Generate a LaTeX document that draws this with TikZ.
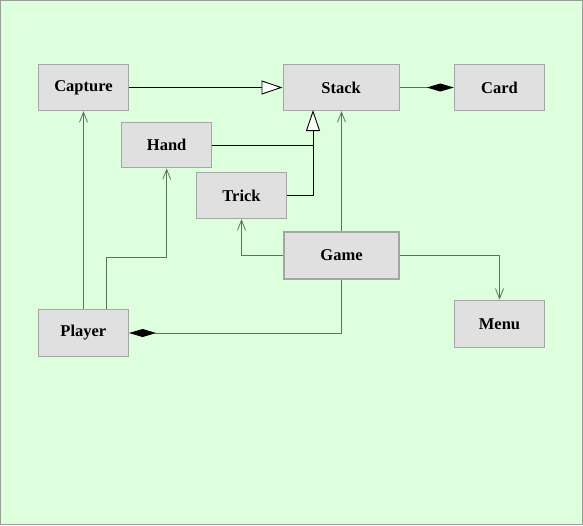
\documentclass[tikz,border=0pt]{standalone}
\usepackage{fontspec}
\setmainfont{Liberation Serif}
\usetikzlibrary{arrows.meta,calc}
\definecolor{bg}{RGB}{221,255,221}
\definecolor{boxfill}{RGB}{224,224,224}
\definecolor{boxline}{RGB}{165,165,165}
\definecolor{conn}{RGB}{90,115,90}
\definecolor{frame}{RGB}{150,160,150}
\tikzset{
  cls/.style={draw=boxline, line width=1.4pt, fill=boxfill, inner sep=0pt,
    minimum height=46pt, font=\fontsize{16.5}{19}\selectfont\bfseries},
  gen/.style={draw=black, line width=0.9pt, -{Triangle[open,length=21pt,width=14pt,fill=white]}},
  plainblack/.style={draw=black, line width=0.9pt},
  dep/.style={draw=conn, line width=0.8pt, -{Straight Barb[length=10pt,width=8pt]}},
  comp/.style={draw=conn, line width=0.8pt, -{Diamond[length=27pt,width=8pt,fill=black,black]}},
}
\begin{document}
\begin{tikzpicture}[x=1pt,y=-1pt]
\useasboundingbox (0,0) rectangle (583,525);
\fill[bg] (0,0) rectangle (583,525);
\draw[frame, line width=1pt] (0.5,0.5) rectangle (582.5,524.5);

\node[cls, minimum width=90pt] (capture) at (83.5,87.5) {Capture};
\node[cls, minimum width=116pt] (stack) at (341.2,87.5) {Stack};
\node[cls, minimum width=90pt] (card) at (499.5,87.5) {Card};
\node[cls, minimum width=90pt, minimum height=45pt] (hand) at (166.7,145.2) {Hand};
\node[cls, minimum width=90pt] (trick) at (241.5,195.5) {Trick};
\node[cls, minimum width=115pt, minimum height=47pt] (game) at (341.5,255.5) {Game};
\node[cls, minimum width=90pt, minimum height=47pt] (player) at (83.4,333) {Player};
\node[cls, minimum width=90pt, minimum height=47pt] (menu) at (499.5,323.8) {Menu};

\coordinate (gj) at (313,110);
\coordinate (ph) at (106,257);

% generalizations
\draw[gen] (capture.east) -- (stack.west);
\draw[plainblack] (hand.east) -- (hand.east -| gj);
\draw[gen] (trick.east) -| (gj);

% composition Stack - Card
\draw[comp] (stack.east) -- (card.west);

% dependencies from Game
\draw[dep] (game.north) -- (game.north |- stack.south);
\draw[dep] (game.west) -| (trick.south);
\draw[dep] (game.east) -| (menu.north);
\draw[comp] (game.south) |- (player.east);

% dependencies from Player
\draw[dep] (player.north) -- (capture.south);
\draw[dep] (player.north -| ph) -- (ph) -| (hand.south);
\end{tikzpicture}
\end{document}
